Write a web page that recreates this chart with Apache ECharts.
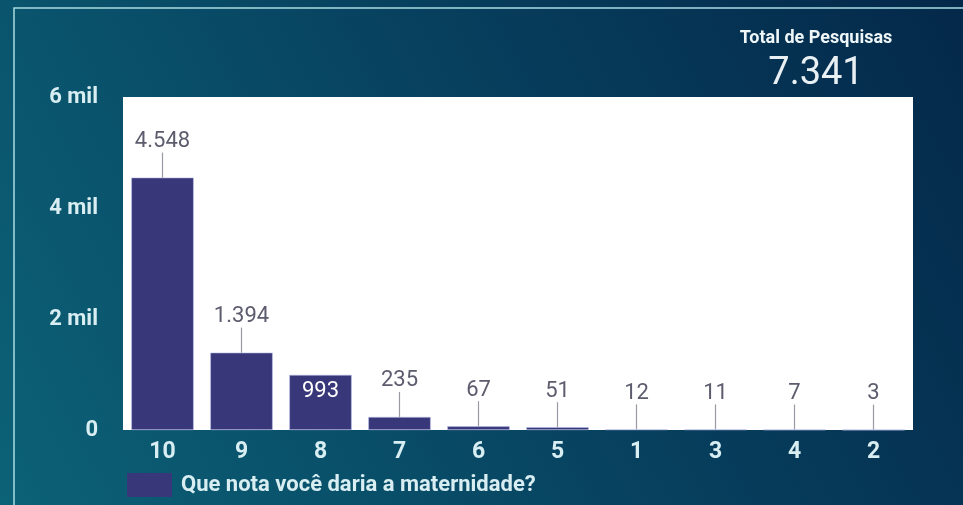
<!DOCTYPE html>
<html>
<head>
<meta charset="utf-8">
<script src="https://cdn.jsdelivr.net/npm/echarts@6/dist/echarts.min.js"></script>
<style>
  html, body { margin: 0; padding: 0; }
  #chart { width: 963px; height: 505px; }
</style>
</head>
<body>
<div id="chart"></div>
<script>
// notas e quantidade de respostas
const categorias = ['10', '9', '8', '7', '6', '5', '1', '3', '4', '2'];
const respostas = [4548, 1394, 993, 235, 67, 51, 12, 11, 7, 3];
const totalPesquisas = '7.341';
const nomeSerie = 'Que nota você daria a maternidade?';

const chart = echarts.init(document.getElementById('chart'));

const fmtBR = (v) => v.toLocaleString('pt-BR');

const option = {
  backgroundColor: new echarts.graphic.LinearGradient(0, 1, 1, 0, [
    { offset: 0, color: '#0c6277' },
    { offset: 0.55, color: '#07405e' },
    { offset: 1, color: '#04284a' }
  ]),
  textStyle: { fontFamily: 'Roboto' },
  graphic: [{
    type: 'rect',
    shape: { x: 14, y: 8, width: 1000, height: 600 },
    style: { fill: 'none', stroke: '#a8dbe2', lineWidth: 1.5 },
    silent: true
  }],
  title: {
    text: 'Total de Pesquisas',
    subtext: totalPesquisas,
    left: 811,
    top: 24,
    textAlign: 'center',
    itemGap: 8,
    textStyle: { color: '#eef6f8', fontSize: 18, fontWeight: 'bold', fontFamily: 'Roboto' },
    subtextStyle: { color: '#e8f0f4', fontSize: 38, fontFamily: 'Roboto' }
  },
  legend: {
    left: 122,
    top: 468,
    itemWidth: 45,
    itemHeight: 24,
    icon: 'rect',
    itemGap: 8,
    itemStyle: { borderWidth: 0 },
    data: [nomeSerie],
    textStyle: { color: '#d8eef2', fontSize: 22, fontWeight: 'bold', fontFamily: 'Roboto', padding: [0, 0, 0, 4] }
  },
  grid: {
    left: 123,
    right: 50,
    top: 97,
    bottom: 75,
    show: true,
    backgroundColor: '#ffffff',
    borderWidth: 0
  },
  xAxis: {
    type: 'category',
    data: categorias,
    axisLine: { show: false },
    axisTick: { show: false },
    axisLabel: { color: '#d8eef2', fontSize: 23, fontWeight: 'bold', margin: 11 }
  },
  yAxis: {
    type: 'value',
    min: 0,
    max: 6000,
    interval: 2000,
    splitLine: { show: false },
    axisLine: { show: false },
    axisTick: { show: false },
    axisLabel: {
      color: '#d8eef2',
      fontSize: 22,
      fontWeight: 'bold',
      margin: 25,
      formatter: (v) => v === 0 ? '0' : (v / 1000) + ' mil'
    }
  },
  series: [{
    name: nomeSerie,
    type: 'bar',
    barCategoryGap: '21%',
    itemStyle: { color: '#37377a', borderColor: '#b9bde6', borderWidth: 0.6 },
    data: respostas.map((v, i) => i === 2
      ? { value: v, label: { position: 'insideTop', color: '#ffffff', distance: 6 }, labelLine: { show: false } }
      : v),
    label: {
      show: true,
      position: 'top',
      distance: 2,
      color: '#5c5c6e',
      fontSize: 22,
      formatter: (p) => fmtBR(p.value)
    },
    labelLine: { show: true, lineStyle: { color: '#9a9aa6', width: 1.2 } },
    labelLayout: (p) => p.dataIndex === 2 ? {} : { dy: -23 }
  }]
};

chart.setOption(option);
</script>
</body>
</html>
